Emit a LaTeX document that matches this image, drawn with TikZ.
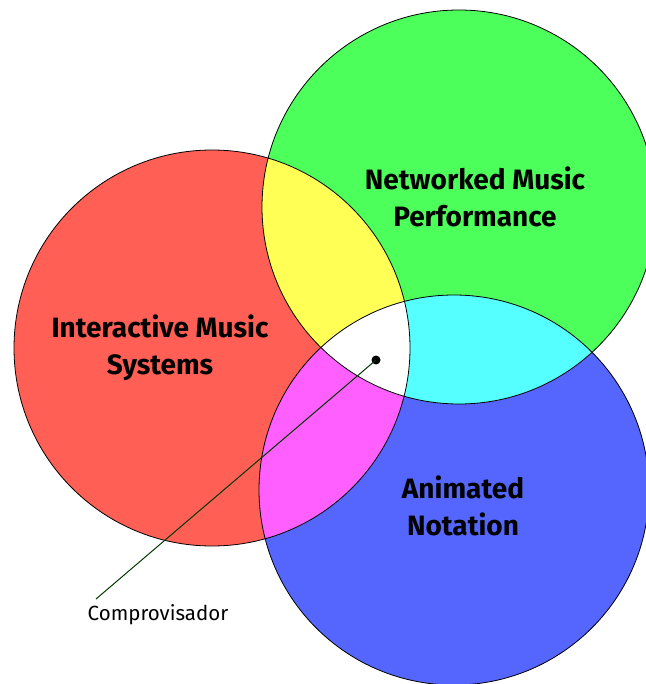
\documentclass[tikz,border=0pt]{standalone}
\usepackage{fontspec}
\setmainfont{Fira Sans}
\definecolor{cred}{HTML}{FF5F55}
\definecolor{cgreen}{HTML}{4DFF5B}
\definecolor{cblue}{HTML}{5566FF}
\definecolor{cyel}{HTML}{FFFF55}
\definecolor{ccyan}{HTML}{55FFFF}
\definecolor{cmag}{HTML}{FF5FFF}
\definecolor{cline}{HTML}{003A00}
\begin{document}
\begin{tikzpicture}[x=1pt,y=-1pt,
  lab/.style={font=\fontsize{28}{37}\selectfont\bfseries, align=center, text=black},
  small/.style={font=\fontsize{20.5}{22}\selectfont, text=black}]
\useasboundingbox (0,0) rectangle (645,684);
\def\red{(212,348) circle[radius=198]}
\def\green{(459,207) circle[radius=197]}
\def\blue{(454,490) circle[radius=195]}
\fill[cred] \red;
\fill[cgreen] \green;
\fill[cblue] \blue;
\begin{scope}\clip \red; \fill[cyel] \green; \end{scope}
\begin{scope}\clip \red; \fill[cmag] \blue; \end{scope}
\begin{scope}\clip \green; \fill[ccyan] \blue; \end{scope}
\begin{scope}\clip \red; \clip \green; \fill[white] \blue; \end{scope}
\draw[line width=0.8pt] \red;
\draw[line width=0.8pt] \green;
\draw[line width=0.8pt] \blue;
\node[lab] (nmp) at (475,197) {Networked Music\\Performance};
\node[lab] (ims) at (160,348) {Interactive Music\\Systems};
\node[lab] (an) at (463,506) {Animated\\Notation};
\node[circle, fill=black, inner sep=0pt, minimum size=9pt] (dot) at (376,360) {};
\node[small] (comp) at (158,615) {Comprovisador};
\coordinate (lend) at (96,599);
\draw[cline, line width=1pt] (dot.center) -- (lend);
\end{tikzpicture}
\end{document}
